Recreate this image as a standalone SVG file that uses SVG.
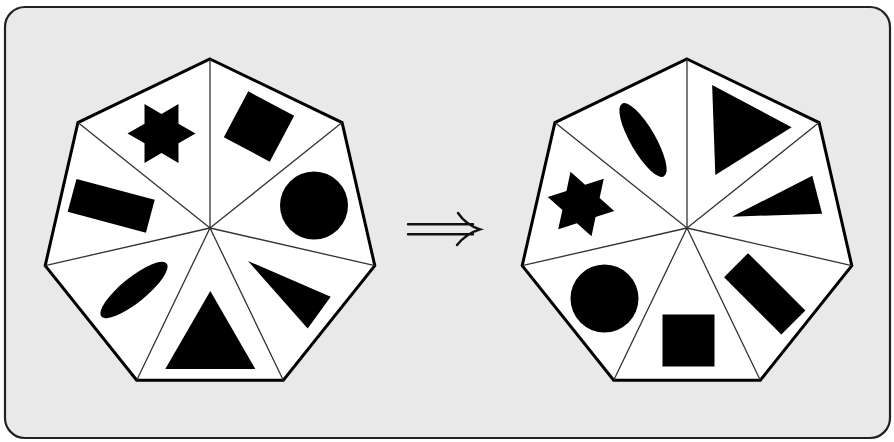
<svg xmlns="http://www.w3.org/2000/svg" width="894" height="442" viewBox="0 0 894 442">
<style>
.frame{fill:#e9e9e9;stroke:#222;stroke-width:2.2}
.hept{fill:#fff;stroke:#000;stroke-width:3;stroke-linejoin:miter}
.spoke{stroke:#333;stroke-width:1.3;fill:none}
.sh{fill:#000}
.arr{fill:none;stroke:#111;stroke-width:2.4;stroke-linecap:round}
</style>
<defs>
<polygon id="star" points="34,0 16.97,9.8 17,29.44 0,19.6 -17,29.44 -16.97,9.8 -34,0 -16.97,-9.8 -17,-29.44 0,-19.6 17,-29.44 16.97,-9.8"/>
<ellipse id="ell" cx="0" cy="0" rx="42" ry="12.5"/>
<circle id="circ" cx="0" cy="0" r="34"/>
<rect id="sq" x="-26" y="-26" width="52" height="52"/>
<rect id="rct" x="-40.5" y="-17" width="81" height="34"/>
<polygon id="tri" points="0,-52 -45,26 45,26"/>
<polygon id="thin" points="0,0 88,-19.6 88,19.6"/>
</defs>
<rect class="frame" x="5" y="7" width="885" height="431" rx="20"/>

<g id="left-heptagon">
<polygon class="hept" points="210,59 342.1,122.6 374.8,265.6 283.3,380.3 136.7,380.3 45.2,265.6 77.9,122.6"/>
<path class="spoke" d="M210,228L210,59M210,228L342.1,122.6M210,228L374.8,265.6M210,228L283.3,380.3M210,228L136.7,380.3M210,228L45.2,265.6M210,228L77.9,122.6"/>
<use class="sh" href="#star" transform="translate(161.5,133.5)"/>
<use class="sh" href="#sq" transform="translate(259,126.5) rotate(28)"/>
<use class="sh" href="#circ" transform="translate(314,205.5)"/>
<use class="sh" href="#rct" transform="translate(111.2,205.8) rotate(15)"/>
<use class="sh" href="#ell" transform="translate(134,290) rotate(-39)"/>
<use class="sh" href="#tri" transform="translate(210.3,343)"/>
<use class="sh" href="#thin" transform="translate(248,261) rotate(36)"/>
</g>

<g id="connectors">
<path class="arr" d="M408,224.3H473M408,234.3H473M458,213Q466,225 480,229.3Q466,233.5 457,245"/>
</g>

<g id="right-heptagon">
<polygon class="hept" points="687,59 819.1,122.6 851.8,265.6 760.3,380.3 613.7,380.3 522.2,265.6 554.9,122.6"/>
<path class="spoke" d="M687,228L687,59M687,228L819.1,122.6M687,228L851.8,265.6M687,228L760.3,380.3M687,228L613.7,380.3M687,228L522.2,265.6M687,228L554.9,122.6"/>
<use class="sh" href="#ell" transform="translate(643,140) rotate(60)"/>
<use class="sh" href="#tri" transform="translate(739.7,129) rotate(-32)"/>
<use class="sh" href="#thin" transform="translate(732,216.7) rotate(-14.5)"/>
<use class="sh" href="#star" transform="translate(581,204) rotate(12)"/>
<use class="sh" href="#circ" transform="translate(604.5,298.5)"/>
<use class="sh" href="#sq" transform="translate(688.5,340.5)"/>
<use class="sh" href="#rct" transform="translate(764.7,293.8) rotate(45)"/>
</g>
</svg>
